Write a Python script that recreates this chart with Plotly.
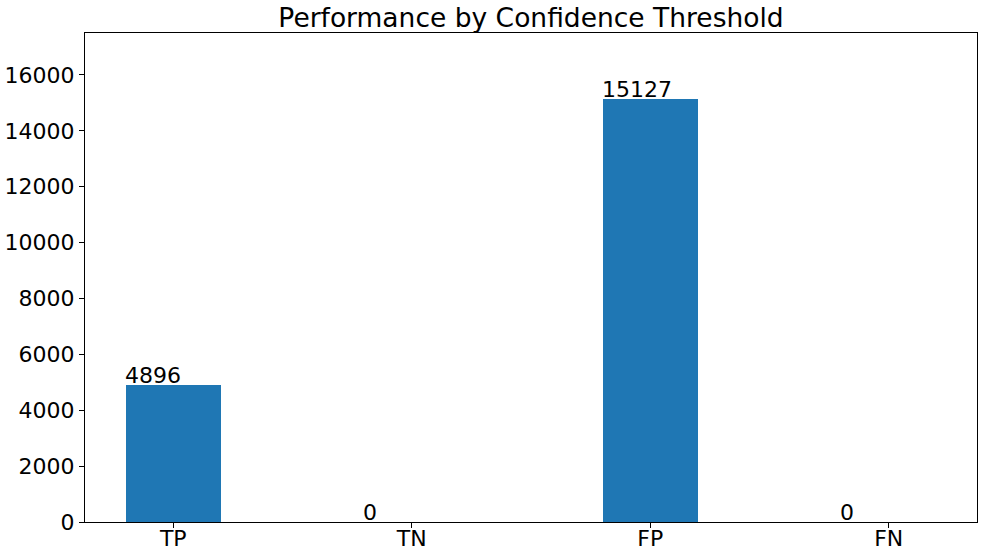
import plotly.graph_objects as go

categories = ["TP", "TN", "FP", "FN"]
values = [4896, 0, 15127, 0]
yticks = [0, 2000, 4000, 6000, 8000, 10000, 12000, 14000, 16000]

xs = list(range(len(categories)))
font = "DejaVu Sans"

fig = go.Figure(go.Bar(x=xs, y=values, width=0.4, marker=dict(color="#1f77b4", line=dict(width=0))))

for x, v in zip(xs, values):
    fig.add_annotation(x=x - 0.2, y=v, text=str(v), showarrow=False,
                       xanchor="left", yanchor="bottom", yshift=-5, xshift=-3,
                       font=dict(family=font, size=22, color="black"))

fig.update_layout(
    width=984, height=556,
    margin=dict(l=85, r=7, t=33, b=34, autoexpand=False),
    paper_bgcolor="white", plot_bgcolor="white",
    title=dict(text="Performance by Confidence Threshold", x=0.5, xanchor="center", xref="paper",
               y=1 - 18 / 556, yanchor="middle", yref="container",
               font=dict(family=font, size=26.5, color="black")),
    font=dict(family=font, size=22, color="black"),
    showlegend=False,
    bargap=0,
)
fig.update_xaxes(range=[-0.37, 3.37], tickvals=xs, ticktext=categories,
                 showgrid=False, zeroline=False, showline=True, mirror=True,
                 linecolor="black", linewidth=1, ticks="outside", ticklen=5,
                 tickcolor="black", automargin=False, ticklabelstandoff=-8,
                 tickfont=dict(family=font, size=22, color="black"))
fig.update_yaxes(range=[0, 17500], tickvals=yticks, ticktext=[str(t) for t in yticks],
                 showgrid=False, zeroline=False, showline=True, mirror=True,
                 linecolor="black", linewidth=1, ticks="outside", ticklen=5,
                 tickcolor="black", automargin=False,
                 tickfont=dict(family=font, size=22, color="black"))

fig.write_html("out.html", config={"displayModeBar": False},
               post_script="document.body.style.margin='0';document.body.style.overflow='hidden';")
